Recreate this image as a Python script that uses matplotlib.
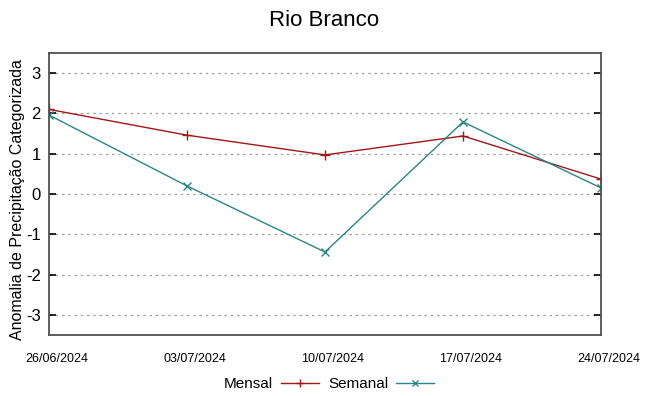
import numpy as np
import matplotlib
matplotlib.use("Agg")
import matplotlib.pyplot as plt
import matplotlib.transforms as mtransforms

plt.rcParams['font.family'] = ['Liberation Sans', 'DejaVu Sans']

datas = ["26/06/2024", "03/07/2024", "10/07/2024", "17/07/2024", "24/07/2024"]
mensal = [2.10, 1.46, 0.97, 1.44, 0.37]
semanal = [1.96, 0.20, -1.44, 1.79, 0.15]
y_ticks = [-3, -2, -1, 0, 1, 2, 3]

x = np.arange(len(datas))

fig = plt.figure(figsize=(6.49, 3.96), dpi=100)
ax = fig.add_axes([49 / 649, 1 - 335 / 396, 552 / 649, 282 / 396])

ax.plot(x, mensal, color="#a01818", linewidth=1.0, marker="+", markersize=7,
        markeredgewidth=1.0, label="Mensal")
ax.plot(x, semanal, color="#2a8585", linewidth=1.0, marker="x", markersize=5.5,
        markeredgewidth=1.0, label="Semanal")

ax.set_xlim(0, len(datas) - 1)
ax.set_ylim(-3.5, 3.5)
ax.set_yticks(y_ticks)
ax.set_yticklabels([str(v) for v in y_ticks], fontsize=12)
ax.set_xticks(x)
ax.set_xticklabels(datas, fontsize=9)
ax.tick_params(axis="y", direction="in", length=5, right=True, pad=6, width=1.2)
ax.tick_params(axis="x", length=0, pad=13)
ax.grid(True, axis="y", linestyle=(0, (2, 3)), color="#a0a0a0", linewidth=0.9)

# gnuplot deixa os rótulos de data um pouco à direita
offset = mtransforms.ScaledTranslation(8 / 100, 0, fig.dpi_scale_trans)
for lbl in ax.get_xticklabels():
    lbl.set_transform(lbl.get_transform() + offset)

for s in ax.spines.values():
    s.set_color("#505050")
    s.set_linewidth(1.3)

ax.set_ylabel("Anomalia de Precipitação Categorizada", fontsize=11.5)
ax.yaxis.set_label_coords(-0.043, 0.48)
fig.suptitle("Rio Branco", fontsize=16, y=0.975)

ax.legend(loc="center", bbox_to_anchor=(0.507, -0.175), ncol=2, frameon=False,
          markerfirst=False, fontsize=11, handlelength=2.5, columnspacing=0.6,
          handletextpad=0.5, markerscale=0.8)

fig.savefig("out.png", dpi=100)
